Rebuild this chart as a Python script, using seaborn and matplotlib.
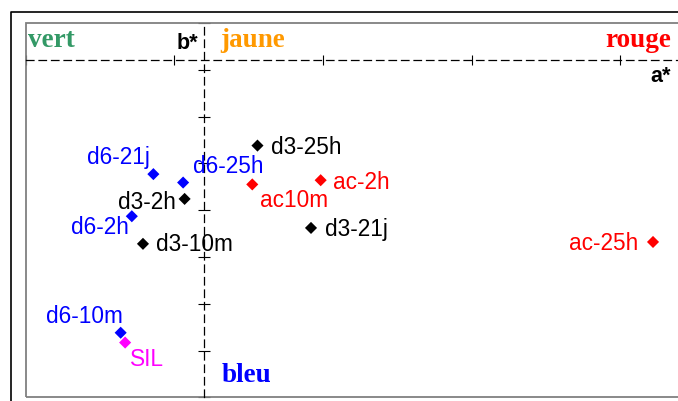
import matplotlib
matplotlib.use("Agg")
import matplotlib.pyplot as plt
import seaborn as sns
import pandas as pd
from matplotlib.patches import Rectangle
from matplotlib.lines import Line2D

# ---- data ----
labels = ["d6-21j", "d6-25h", "d3-2h", "d6-2h", "d3-10m", "d3-25h",
          "ac10m", "ac-2h", "d3-21j", "ac-25h", "d6-10m", "SIL"]
a_star = [-0.68, -0.28, -0.26, -0.97, -0.82, 0.72,
          0.65, 1.57, 1.44, 6.04, -1.12, -1.06]
b_star = [-2.43, -2.61, -2.96, -3.33, -3.92, -1.82,
          -2.65, -2.56, -3.58, -3.88, -5.82, -6.03]
groups = ["d6", "d6", "d3", "d6", "d3", "d3",
          "ac", "ac", "d3", "ac", "d6", "SIL"]
x_ticks = [-2.4, -0.4, 1.6, 3.6, 5.6]
y_ticks = [0.8, -0.2, -1.2, -2.2, -3.2, -4.2, -5.2, -6.2, -7.2]

palette = {"d6": "#0000FF", "d3": "#000000", "ac": "#FF0000", "SIL": "#FF00FF"}

# label offsets in pixels (dx right, dy down, baseline)
offsets = {
    "d6-21j": (-34.6, -9.8), "d6-25h": (45.2, -9.8), "d3-2h": (-37.5, 10.2),
    "d6-2h": (-32.0, 18.2), "d3-10m": (51.6, 7.5), "d3-25h": (49.0, 8.8),
    "ac10m": (42.0, 22.5), "ac-2h": (41.0, 8.5), "d3-21j": (45.3, 7.8),
    "ac-25h": (-49.0, 8.2), "d6-10m": (-36.5, -10.2), "SIL": (22.0, 23.1),
}

df = pd.DataFrame({"a": a_star, "b": b_star, "g": groups, "label": labels})

sns.set_style("white")
plt.rcParams["font.family"] = ["Liberation Sans", "DejaVu Sans"]

W, H = 678, 401
fig = plt.figure(figsize=(W / 100, H / 100), dpi=100)
left_px, top_px, bot_px, right_px = 25.5, 23.0, 397.3, 690.0
ax = fig.add_axes([left_px / W, (H - bot_px) / H,
                   (right_px - left_px) / W, (bot_px - top_px) / H])

xmin = -2.4
xmax = xmin + (right_px - left_px) / 74.35
ax.set_xlim(xmin, xmax)
ax.set_ylim(-7.2, 0.8)

sns.scatterplot(data=df, x="a", y="b", hue="g", palette=palette, marker="D",
                s=38, linewidth=0, legend=False, ax=ax, zorder=3)

for lab, a, b, g in zip(labels, a_star, b_star, groups):
    dx, dy = offsets[lab]
    ax.annotate(lab, (a, b), xytext=(dx * 0.72, -dy * 0.72),
                textcoords="offset points", ha="center", va="baseline",
                fontsize=16.3, color=palette[g], zorder=4)

# axes through the origin
for side in ["top", "right"]:
    ax.spines[side].set_visible(False)
for side in ["left", "bottom"]:
    sp = ax.spines[side]
    sp.set_position(("data", 0))
    sp.set_linestyle((0, (6, 4)))
    sp.set_linewidth(0.9)
    sp.set_color("black")
ax.set_xticks(x_ticks)
ax.set_yticks(y_ticks)
ax.set_xticklabels([])
ax.set_yticklabels([])
ax.tick_params(axis="x", bottom=True, direction="inout", length=7, width=0.8, color="black")
ax.tick_params(axis="y", left=True, direction="inout", length=8, width=0.8, color="black")
ax.set_xlabel("")
ax.set_ylabel("")

# grey plot box
ax.add_patch(Rectangle((0, 0), 1, 1, transform=ax.transAxes, fill=False,
                       edgecolor="#808080", linewidth=1.3, clip_on=False, zorder=1))

# outer black frame (left and top)
fig.add_artist(Line2D([11 / W, 11 / W, 1.0], [0, 1 - 11.5 / H, 1 - 11.5 / H],
                      transform=fig.transFigure, color="black", linewidth=1.2))

def ftext(x, y, s, **kw):
    fig.text(x / W, 1 - y / H, s, va="baseline", **kw)

serif = dict(family=["Liberation Serif", "DejaVu Serif"], fontweight="bold", fontsize=19.5)
ftext(28, 46.7, "vert", color="#339966", ha="left", **serif)
ftext(220, 46.7, "jaune", color="#FF9900", ha="left", **serif)
ftext(671, 46.7, "rouge", color="#FF0000", ha="right", **serif)
ftext(222, 381.7, "bleu", color="#0000FF", ha="left", **serif)
ftext(198, 49, "b*", color="black", ha="right", fontweight="bold", fontsize=15.5)
ftext(671, 82, "a*", color="black", ha="right", fontweight="bold", fontsize=15.5)

fig.savefig("out.png", dpi=100)
